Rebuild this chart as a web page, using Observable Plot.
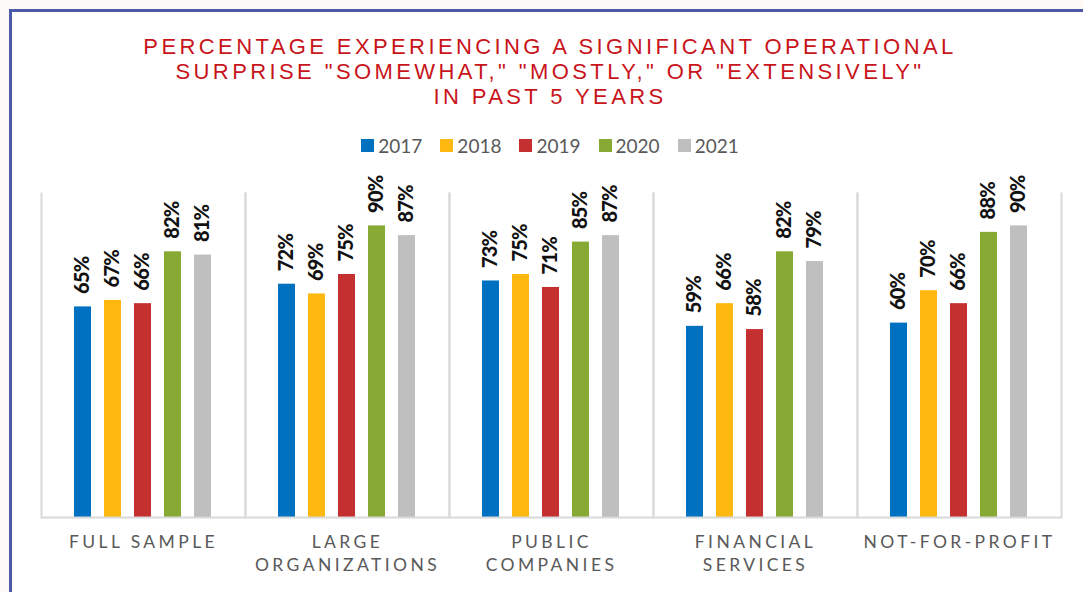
<!DOCTYPE html>
<html>
<head>
<meta charset="utf-8">
<script src="https://cdn.jsdelivr.net/npm/d3@7"></script>
<script src="https://cdn.jsdelivr.net/npm/@observablehq/plot@0.6"></script>
<style>
  html, body { margin: 0; padding: 0; background: #fcf9f6; }
  body { width: 1083px; height: 592px; position: relative; overflow: hidden; }
  #box { position: absolute; left: 9px; top: 9px; right: -10px; bottom: -10px; background: #fff;
         border-top: 3px solid #4a5aa6; border-left: 3px solid #4a5aa6; }
  #title { position: absolute; left: 10px; width: 1080px; top: 34px; text-align: center;
           color: #c8141b; font-family: "Liberation Sans", Arial, sans-serif;
           font-size: 22px; line-height: 25px; letter-spacing: 3.4px; }
  #legend { position: absolute; left: 10px; width: 1080px; top: 134px; display: flex; justify-content: center;
            font-family: Lato, "Open Sans", sans-serif; font-size: 19px; color: #595959; }
  #legend .item { display: flex; align-items: center; margin: 0 9px; }
  #legend .sw { width: 13px; height: 13px; margin-right: 4px; }
  #chart { position: absolute; left: 0; top: 170px; }
</style>
</head>
<body>
<div id="box"></div>
<div id="title"></div>
<div id="legend"></div>
<div id="chart"></div>
<script>
const titleLines = ["PERCENTAGE EXPERIENCING A SIGNIFICANT OPERATIONAL",
                    "SURPRISE \"SOMEWHAT,\" \"MOSTLY,\" OR \"EXTENSIVELY\"",
                    "IN PAST 5 YEARS"];
const categories = ["FULL SAMPLE", "LARGE\nORGANIZATIONS", "PUBLIC\nCOMPANIES", "FINANCIAL\nSERVICES", "NOT-FOR-PROFIT"];
const years = ["2017", "2018", "2019", "2020", "2021"];
const colors = ["#0070C0", "#FFB80F", "#C4302F", "#86AA34", "#BFBFBF"];
const v2017 = [65, 72, 73, 59, 60];
const v2018 = [67, 69, 75, 66, 70];
const v2019 = [66, 75, 71, 58, 66];
const v2020 = [82, 90, 85, 82, 88];
const v2021 = [81, 87, 87, 79, 90];
const series = [v2017, v2018, v2019, v2020, v2021];

const data = [];
categories.forEach((c, i) => years.forEach((y, j) => data.push({cat: c, year: y, value: series[j][i]})));

document.getElementById("title").innerHTML = titleLines.map(t => `<div>${t.replace(/"/g, "&quot;")}</div>`).join("");
const leg = document.getElementById("legend");
years.forEach((y, j) => {
  const it = document.createElement("div"); it.className = "item";
  const sw = document.createElement("div"); sw.className = "sw"; sw.style.background = colors[j];
  const tx = document.createElement("span"); tx.textContent = y;
  it.appendChild(sw); it.appendChild(tx); leg.appendChild(it);
});

const plot = Plot.plot({
  width: 1083,
  height: 422,
  marginLeft: 40,
  marginRight: 21,
  marginTop: 23,
  marginBottom: 75,
  style: {fontFamily: "Lato, 'Open Sans', sans-serif", background: "transparent", overflow: "visible"},
  fx: {domain: categories, padding: 0, axis: null, label: null},
  x: {domain: years, paddingInner: 0.43, paddingOuter: 1.1, axis: null, label: null},
  y: {domain: [0, 100], axis: null, label: null},
  color: {domain: years, range: colors},
  marks: [
    Plot.frame({anchor: "left", stroke: "#d9d9d9", strokeWidth: 2}),
    Plot.frame({anchor: "right", stroke: "#d9d9d9", strokeWidth: 2}),
    Plot.barY(data, {fx: "cat", x: "year", y: "value", fill: "year"}),
    Plot.ruleY([0], {stroke: "#d9d9d9", strokeWidth: 2}),
    Plot.text(data, {fx: "cat", x: "year", y: "value", text: d => d.value + "%", rotate: -90,
                     textAnchor: "start", dy: -13, fontWeight: 900, fontSize: 20, fill: "#111",
                     ariaDescription: "val"}),
    Plot.text(categories, {fx: d => d, text: d => d, frameAnchor: "bottom", lineAnchor: "top",
                           dy: 14, fontSize: 17.5, lineHeight: 1.32, fill: "#595959", ariaDescription: "cat"})
  ]
});
plot.querySelectorAll('g[aria-description="cat"]').forEach(g => g.style.letterSpacing = "3.4px");
plot.querySelectorAll('g[aria-description="val"]').forEach(g => g.style.letterSpacing = "-0.8px");
document.getElementById("chart").appendChild(plot);
</script>
</body>
</html>
